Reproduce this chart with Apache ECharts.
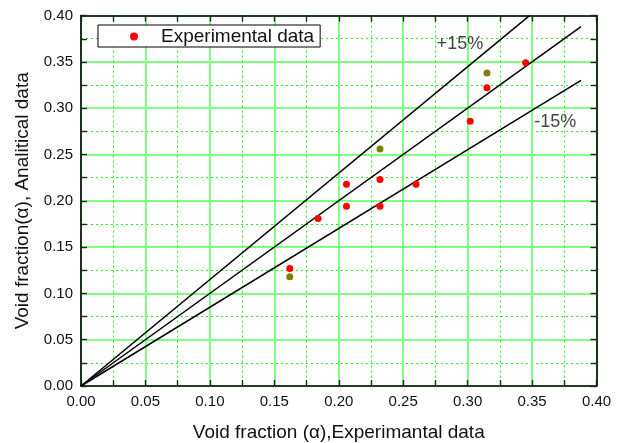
<!DOCTYPE html>
<html>
<head>
<meta charset="utf-8">
<script src="https://cdn.jsdelivr.net/npm/echarts@6/dist/echarts.min.js"></script>
<style>
html,body{margin:0;padding:0;background:#fff;}
#chart{width:626px;height:443px;}
</style>
</head>
<body>
<div id="chart"></div>
<script>
// Experimental vs analytical void fraction (red points)
const redPoints = [
  [0.162, 0.127],
  [0.184, 0.181],
  [0.206, 0.218],
  [0.206, 0.194],
  [0.232, 0.223],
  [0.232, 0.194],
  [0.260, 0.218],
  [0.302, 0.286],
  [0.315, 0.322],
  [0.345, 0.349]
];
// Olive points
const olivePoints = [
  [0.162, 0.118],
  [0.232, 0.256],
  [0.315, 0.338]
];
// Reference lines (endpoints)
const linePlus15 = [[0, 0], [0.348, 0.40]];
const lineEqual = [[0, 0], [0.388, 0.388]];
const lineMinus15 = [[0, 0], [0.388, 0.330]];
// Annotation labels
const annotations = [
  { text: '+15%', pos: [0.294, 0.369] },
  { text: '-15%', pos: [0.368, 0.285] }
];
const axisMin = 0, axisMax = 0.40, axisStep = 0.05;

const font = 'Liberation Sans, Arial, sans-serif';
const chart = echarts.init(document.getElementById('chart'));

function baseAxis(extra) {
  return Object.assign({
    type: 'value',
    min: axisMin, max: axisMax, interval: axisStep,
    axisLine: { show: true, onZero: false, lineStyle: { color: '#000', width: 1.6 } },
    axisTick: { show: true, inside: true, length: 6, lineStyle: { color: '#222', width: 1.4 } },
    minorTick: { show: true, splitNumber: 2, length: 6, lineStyle: { color: '#222', width: 1.4 } },
    axisLabel: { show: false },
    splitLine: { show: false },
    minorSplitLine: { show: false }
  }, extra);
}

const option = {
  backgroundColor: '#fff',
  animation: false,
  grid: { left: 81, right: 29.5, top: 15.6, bottom: 57, containLabel: false, outerBoundsMode: 'none' },
  legend: {
    data: [{ name: 'Experimental data', icon: 'circle' }],
    left: 98, top: 25,
    itemWidth: 44, itemHeight: 8,
    padding: [2, 6, 1, 32],
    backgroundColor: '#fff',
    borderColor: '#000', borderWidth: 1, borderRadius: 0,
    textStyle: { fontFamily: font, fontSize: 19, color: '#111' }
  },
  xAxis: [
    baseAxis({
      position: 'bottom',
      name: 'Void fraction (\u03b1),Experimantal data',
      nameLocation: 'middle', nameGap: 37,
      nameTextStyle: { fontFamily: font, fontSize: 19, color: '#111' },
      axisLabel: { show: true, fontFamily: font, fontSize: 15, color: '#111', margin: 8,
        formatter: v => v.toFixed(2) },
      splitLine: { show: true, lineStyle: { color: '#80ff80', width: 2 } },
      minorSplitLine: { show: true, lineStyle: { color: '#22ee22', width: 1, type: [2, 3] } }
    }),
    baseAxis({ position: 'top' })
  ],
  yAxis: [
    baseAxis({
      position: 'left',
      name: 'Void fraction(\u03b1), Analitical data',
      nameLocation: 'middle', nameGap: 49,
      nameTextStyle: { fontFamily: font, fontSize: 19, color: '#111' },
      axisLabel: { show: true, fontFamily: font, fontSize: 15, color: '#111', margin: 8,
        formatter: v => v.toFixed(2) },
      splitLine: { show: true, lineStyle: { color: '#80ff80', width: 2 } },
      minorSplitLine: { show: true, lineStyle: { color: '#22ee22', width: 1, type: [2, 3] } }
    }),
    baseAxis({ position: 'right' })
  ],
  series: [
    { type: 'line', data: linePlus15, symbol: 'none', silent: true,
      lineStyle: { color: '#000', width: 1.5 }, z: 3 },
    { type: 'line', data: lineEqual, symbol: 'none', silent: true,
      lineStyle: { color: '#000', width: 1.5 }, z: 3 },
    { type: 'line', data: lineMinus15, symbol: 'none', silent: true,
      lineStyle: { color: '#000', width: 1.5 }, z: 3 },
    { name: 'Experimental data', type: 'scatter', data: redPoints,
      symbol: 'circle', symbolSize: 7, itemStyle: { color: '#ff0000', opacity: 1 }, z: 5 },
    { name: 'olive', type: 'scatter', data: olivePoints,
      symbol: 'circle', symbolSize: 7, itemStyle: { color: '#808000', opacity: 1 }, z: 5 },
    { name: 'annot', type: 'scatter', symbolSize: 0, silent: true,
      data: annotations.map(a => ({ value: a.pos, name: a.text })),
      label: { show: true, position: 'inside', formatter: p => p.name,
        fontFamily: font, fontSize: 18, color: '#111' }, z: 6 }
  ]
};
chart.setOption(option);
</script>
</body>
</html>
